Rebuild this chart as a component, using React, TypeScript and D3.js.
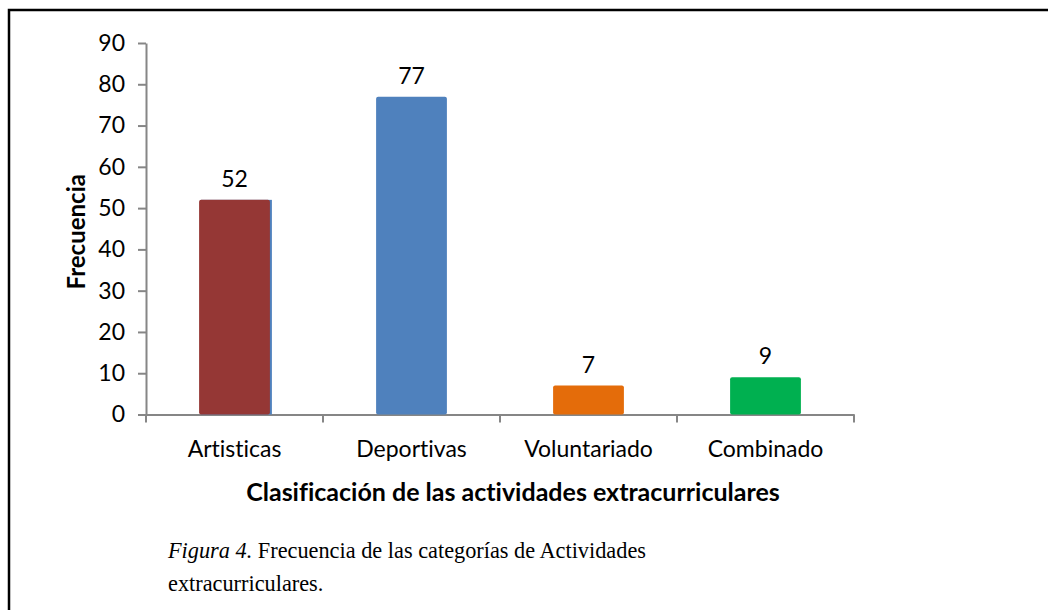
import React, { useEffect, useRef } from "react";
import * as d3 from "d3";

const categories = ["Artisticas", "Deportivas", "Voluntariado", "Combinado"];
const frecuencias = [52, 77, 7, 9];
const colors = ["#953735", "#4F81BD", "#E46C0A", "#00B050"];
const yTicks = [0, 10, 20, 30, 40, 50, 60, 70, 80, 90];

const W = 1048;
const H = 610;
const FONT = "Lato, 'Open Sans', sans-serif";

export default function App() {
  const ref = useRef<SVGGElement>(null);

  const margin = { top: 43, left: 146, right: 194, bottom: 196 };
  const x = d3
    .scaleBand()
    .domain(categories)
    .range([margin.left, W - margin.right])
    .paddingInner(0)
    .paddingOuter(0);
  const y = d3
    .scaleLinear()
    .domain([0, 90])
    .range([H - margin.bottom + 0.5, margin.top]);
  const barW = x.bandwidth() / 2.5;

  useEffect(() => {
    const g = d3.select(ref.current);
    g.html("");

    // y axis
    const yAxis = g
      .append("g")
      .attr("transform", `translate(${margin.left},0)`)
      .call(d3.axisLeft(y).tickValues(yTicks).tickSize(8).tickSizeOuter(0).tickPadding(13));
    yAxis.select(".domain").attr("stroke", "#868686").attr("stroke-width", 2);
    yAxis.selectAll(".tick line").attr("stroke", "#868686").attr("stroke-width", 2);
    yAxis
      .selectAll(".tick text")
      .attr("fill", "#000")
      .style("font-family", FONT)
      .style("font-size", "23px");

    // x axis
    const xAxis = g
      .append("g")
      .attr("transform", `translate(0,${y(0)})`)
      .call(d3.axisBottom(x).tickSize(0).tickPadding(26));
    xAxis.select(".domain").attr("stroke", "#868686").attr("stroke-width", 2);
    xAxis
      .selectAll(".tick text")
      .attr("fill", "#000")
      .style("font-family", FONT)
      .style("font-size", "23px")
      .style("font-variant-ligatures", "none");
    // category boundary ticks
    const edges = categories.map(c => x(c) as number).concat([x.range()[1]]);
    xAxis
      .selectAll("line.edge")
      .data(edges)
      .join("line")
      .attr("class", "edge")
      .attr("x1", d => d)
      .attr("x2", d => d)
      .attr("y1", 0)
      .attr("y2", 8)
      .attr("stroke", "#868686")
      .attr("stroke-width", 2);

    // bars
    const bars = g
      .append("g")
      .selectAll("g")
      .data(categories)
      .join("g");
    bars
      .filter((_, i) => i === 0)
      .append("rect")
      .attr("x", d => (x(d) as number) + x.bandwidth() / 2 - barW / 2 + 2)
      .attr("y", (_, i) => y(frecuencias[i]))
      .attr("width", barW)
      .attr("height", (_, i) => y(0) - y(frecuencias[i]))
      .attr("fill", colors[1]);
    bars
      .append("rect")
      .attr("x", d => (x(d) as number) + x.bandwidth() / 2 - barW / 2)
      .attr("y", (_, i) => y(frecuencias[i]))
      .attr("width", barW)
      .attr("height", (_, i) => y(0) - y(frecuencias[i]))
      .attr("rx", 2)
      .attr("fill", (_, i) => colors[i]);
    bars
      .append("text")
      .attr("x", d => (x(d) as number) + x.bandwidth() / 2)
      .attr("y", (_, i) => y(frecuencias[i]) - 13)
      .attr("text-anchor", "middle")
      .style("font-family", FONT)
      .style("font-size", "23px")
      .text((_, i) => frecuencias[i]);
  }, []);

  return (
    <svg
      width={W}
      height={H}
      style={{ position: "absolute", left: 0, top: 0, background: "#fff", fontVariantLigatures: "none" }}
    >
      <rect x={9} y={10} width={1200} height={800} fill="none" stroke="#000" strokeWidth={2.5} />
      <g ref={ref} />
      <text
        transform={`translate(85,${(y(0) + y(90)) / 2 + 3}) rotate(-90)`}
        textAnchor="middle"
        fontFamily={FONT}
        fontWeight="bold"
        fontSize={24}
      >
        Frecuencia
      </text>
      <text
        x={(x.range()[0] + x.range()[1]) / 2 + 13}
        y={501}
        textAnchor="middle"
        fontFamily={FONT}
        fontWeight="bold"
        fontSize={25}
      >
        Clasificación de las actividades extracurriculares
      </text>
      <text x={168} y={558} fontFamily="'Liberation Serif', serif" fontSize={22.3}>
        <tspan fontStyle="italic">Figura 4.</tspan> Frecuencia de las categorías de Actividades
      </text>
      <text x={168} y={591} fontFamily="'Liberation Serif', serif" fontSize={22.3}>
        extracurriculares.
      </text>
    </svg>
  );
}
